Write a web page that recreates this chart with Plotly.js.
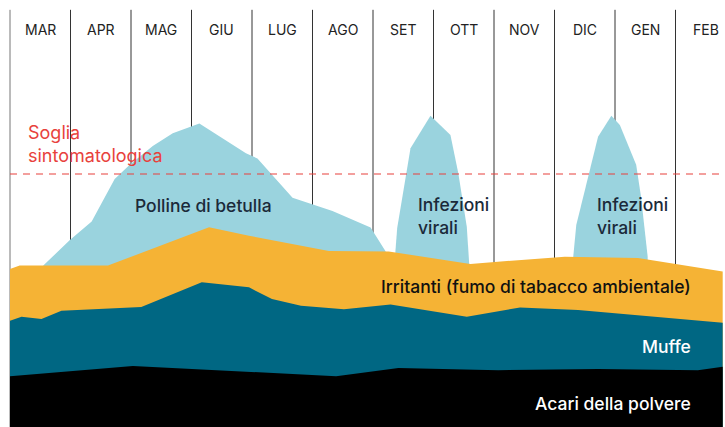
<!DOCTYPE html>
<html>
<head>
<meta charset="utf-8">
<script src="https://cdn.plot.ly/plotly-3.0.1.min.js"></script>
<style>html,body{margin:0;padding:0;background:#fff;}#chart{width:725px;height:427px;}</style>
</head>
<body>
<div id="chart"></div>
<script>
// Months (x in month units: month i spans [i, i+1])
const months = ["MAR","APR","MAG","GIU","LUG","AGO","SET","OTT","NOV","DIC","GEN","FEB"];

// Acari della polvere (top boundary)
const acariX = [0, 2.03, 5.39, 6.42, 8.07, 9.72, 11.37, 11.78];
const acariY = [11.9, 14.3, 11.9, 13.8, 13.3, 13.6, 13.3, 14.1];

// Muffe (top boundary)
const muffeX = [0, 0.19, 0.52, 0.85, 2.17, 3.17, 3.95, 4.33, 4.81, 5.52, 6.29, 7.55, 8.43, 9.39, 11.78];
const muffeY = [24.9, 25.8, 25.3, 27.2, 28.1, 33.9, 32.7, 30.0, 28.4, 27.6, 28.7, 25.8, 28.0, 27.4, 24.4];

// Irritanti (top boundary)
const irritX = [0, 0.16, 1.62, 3.29, 3.95, 5.27, 6.26, 7.61, 9.17, 10.38, 11.78];
const irritY = [37.0, 37.8, 37.8, 46.8, 44.8, 41.2, 41.1, 38.2, 39.9, 39.6, 36.4];

// Polline di betulla (top boundary)
const pollX = [0.55, 0.99, 1.35, 1.73, 1.98, 2.36, 2.69, 3.13, 3.90, 4.09, 4.67, 5.33, 5.96, 6.21];
const pollY = [37.8, 43.8, 48.1, 58.1, 61.4, 65.8, 68.8, 71.1, 64.1, 62.9, 53.7, 50.6, 46.7, 41.1];

// Infezioni virali (two peaks, top boundary)
const inf1X = [6.37, 6.40, 6.62, 6.95, 7.28, 7.41, 7.55, 7.59];
const inf1Y = [41.1, 46.6, 65.3, 72.9, 68.4, 59.4, 46.9, 38.2];
const inf2X = [9.31, 9.36, 9.72, 9.94, 10.08, 10.35, 10.43, 10.54];
const inf2Y = [39.9, 47.3, 68.0, 72.9, 70.7, 61.4, 53.9, 39.9];

// Soglia sintomatologica
const soglia = 59.25;

const area = (x, y, color, name) => ({
  x: x, y: y, name: name, type: "scatter", mode: "none",
  fill: "tozeroy", fillcolor: color, hoverinfo: "skip", showlegend: false
});

const traces = [
  area(pollX, pollY, "#9ad3de", "Polline di betulla"),
  area(inf1X, inf1Y, "#9ad3de", "Infezioni virali"),
  area(inf2X, inf2Y, "#9ad3de", "Infezioni virali"),
  area(irritX, irritY, "#f5b335", "Irritanti"),
  area(muffeX, muffeY, "#006783", "Muffe"),
  area(acariX, acariY, "#000000", "Acari della polvere")
];

const X0 = -10/60.5, X1 = 715/60.5;
const shapes = [];
for (let i = 0; i < months.length; i++) {
  shapes.push({type: "line", xref: "x", yref: "y", x0: i, x1: i, y0: 0, y1: 97.7,
    line: {color: i === 0 ? "#777" : "#333", width: 1}, layer: "below"});
}
shapes.push({type: "line", xref: "paper", yref: "y", x0: 10/725, x1: 1, y0: soglia, y1: soglia,
  line: {color: "#e8413c", width: 1.2, dash: "7px,6px"}, layer: "above"});

const F = "Inter, Liberation Sans, Arial, sans-serif";
const annotations = months.map((m, i) => ({
  x: i + 0.5, y: 93.0, xref: "x", yref: "y", text: m, showarrow: false,
  font: {family: F, size: 14, color: "#222"}
}));
const px = v => v / 725;
const py = v => 1 - v / 427;
const lab = {family: F, size: 17.5, weight: 500};
annotations.push(
  {xref: "paper", yref: "paper", x: px(26), y: py(144), xanchor: "left", yanchor: "middle", align: "left",
   text: "Soglia<br>sintomatologica", showarrow: false, font: {family: F, size: 18, color: "#e8413c"}},
  {xref: "paper", yref: "paper", x: px(203), y: py(205), xanchor: "center", yanchor: "middle",
   text: "Polline di betulla", showarrow: false, font: Object.assign({color: "#1b2a3a"}, lab)},
  {xref: "paper", yref: "paper", x: px(416), y: py(216), xanchor: "left", yanchor: "middle", align: "left",
   text: "Infezioni<br>virali", showarrow: false, font: Object.assign({color: "#1b2a3a"}, lab)},
  {xref: "paper", yref: "paper", x: px(595), y: py(216), xanchor: "left", yanchor: "middle", align: "left",
   text: "Infezioni<br>virali", showarrow: false, font: Object.assign({color: "#1b2a3a"}, lab)},
  {xref: "paper", yref: "paper", x: px(693), y: py(286), xanchor: "right", yanchor: "middle",
   text: "Irritanti (fumo di tabacco ambientale)", showarrow: false, font: Object.assign({color: "#111"}, lab)},
  {xref: "paper", yref: "paper", x: px(693), y: py(346), xanchor: "right", yanchor: "middle",
   text: "Muffe", showarrow: false, font: Object.assign({color: "#fff"}, lab)},
  {xref: "paper", yref: "paper", x: px(693), y: py(403), xanchor: "right", yanchor: "middle",
   text: "Acari della polvere", showarrow: false, font: Object.assign({color: "#fff"}, lab)}
);

const layout = {
  width: 725, height: 427,
  margin: {l: 0, r: 0, t: 0, b: 0},
  paper_bgcolor: "#fff", plot_bgcolor: "#fff",
  xaxis: {range: [X0, X1], visible: false, fixedrange: true},
  yaxis: {range: [0, 100], visible: false, fixedrange: true},
  shapes: shapes, annotations: annotations, showlegend: false
};

Plotly.newPlot("chart", traces, layout, {staticPlot: true, displayModeBar: false});
</script>
</body>
</html>
